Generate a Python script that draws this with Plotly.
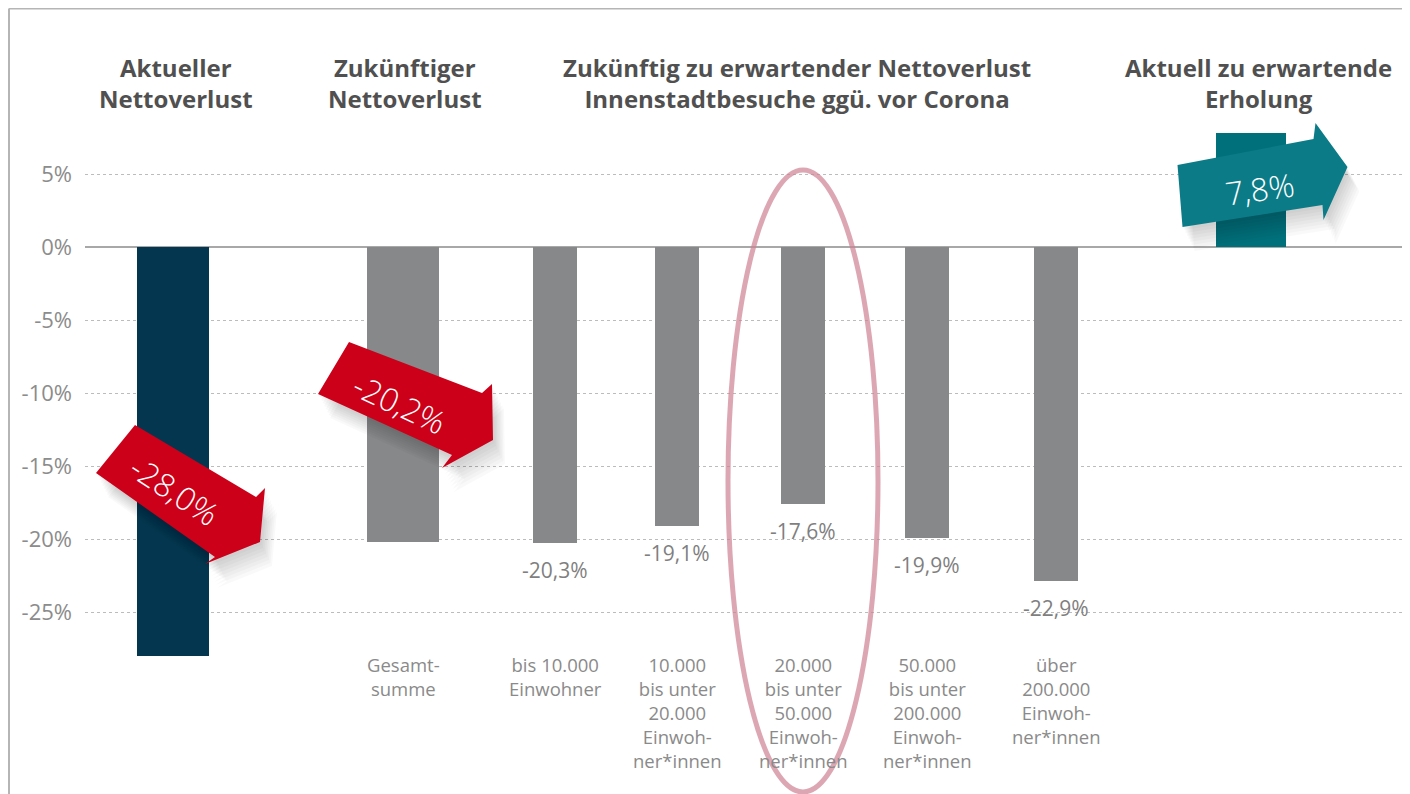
import plotly.graph_objects as go

# ---------------- data ----------------
categories = [
    "Aktueller Nettoverlust",
    "Gesamtsumme",
    "bis 10.000 Einwohner",
    "10.000 bis unter 20.000 Einwohner*innen",
    "20.000 bis unter 50.000 Einwohner*innen",
    "50.000 bis unter 200.000 Einwohner*innen",
    "über 200.000 Einwohner*innen",
    "Aktuell zu erwartende Erholung",
]
values = [-28.0, -20.2, -20.3, -19.1, -17.6, -19.9, -22.9, 7.8]
value_labels = ["-28,0%", "-20,2%", "-20,3%", "-19,1%", "-17,6%", "-19,9%", "-22,9%", "7,8%"]
category_labels = [
    "",
    "Gesamt-<br>summe",
    "bis 10.000<br>Einwohner",
    "10.000<br>bis unter<br>20.000<br>Einwoh-<br>ner*innen",
    "20.000<br>bis unter<br>50.000<br>Einwoh-<br>ner*innen",
    "50.000<br>bis unter<br>200.000<br>Einwoh-<br>ner*innen",
    "über<br>200.000<br>Einwoh-<br>ner*innen",
    "",
]
group_titles = [
    "Aktueller<br>Nettoverlust",
    "Zukünftiger<br>Nettoverlust",
    "Zukünftig zu erwartender Nettoverlust<br>Innenstadtbesuche ggü. vor Corona",
    "Aktuell zu erwartende<br>Erholung",
]
tick_vals = [5, 0, -5, -10, -15, -20, -25]
tick_text = ["5%", "0%", "-5%", "-10%", "-15%", "-20%", "-25%"]

# ---------------- layout / style ----------------
x_pos = [0.88, 3.18, 4.70, 5.92, 7.18, 8.42, 9.71, 11.655]
bar_width = [0.72, 0.72, 0.44, 0.44, 0.44, 0.44, 0.44, 0.70]
bar_colors = ["#04374f", "#87888a", "#87888a", "#87888a", "#87888a", "#87888a", "#87888a", "#00717b"]
title_x = [0.91, 3.20, 7.12, 11.73]

FONT = "Open Sans"
W, H = 1402, 786          # page adds an 8px body margin
ML = 77
PX_PER_UNIT = 100.0
PX_PER_PCT = 14.6
ZERO_PX = 239
x_range = [0, (W - ML) / PX_PER_UNIT]
y_range = [-(H - ZERO_PX) / PX_PER_PCT, ZERO_PX / PX_PER_PCT]

fig = go.Figure()
fig.add_trace(go.Bar(
    x=x_pos, y=values, width=bar_width,
    marker=dict(color=bar_colors, line=dict(width=0)),
    hovertext=categories, hoverinfo="text+y", showlegend=False,
))

annotations = []
# value labels below the small bars
for i in range(2, 7):
    annotations.append(dict(
        x=x_pos[i], y=values[i], xref="x", yref="y", text=value_labels[i],
        showarrow=False, yanchor="top", yshift=-11,
        font=dict(family=FONT, size=21, color="#7f7f7f"),
    ))
# category labels
for i, lab in enumerate(category_labels):
    if not lab:
        continue
    annotations.append(dict(
        x=x_pos[i], y=-27.6, xref="x", yref="y", text=lab, showarrow=False,
        yanchor="top", align="center",
        font=dict(family=FONT, size=18.5, color="#8a8a8a"),
    ))
# group titles
for tx, t in zip(title_x, group_titles):
    annotations.append(dict(
        x=tx, y=11.2, xref="x", yref="y", text=t, showarrow=False,
        yanchor="middle", align="center",
        font=dict(family=FONT, size=24, color="#505050", weight="bold"),
    ))

shapes = []

def poly_path(pts):
    return "M " + " L ".join(f"{a},{b}" for a, b in pts) + " Z"

# decorative ribbon arrows (pixel offsets relative to each bar's base)
arrow_defs = [
    dict(i=0, color="#cc0019", angle=33, text_off=(2, -243),
         pts=[(-38, -178), (83, -250), (92, -241), (87, -295), (32, -317), (42, -310), (-77, -226)]),
    dict(i=1, color="#cc0019", angle=25, text_off=(-3, -156),
         pts=[(-54, -95), (79, -146), (89, -137), (90, -193), (39, -221), (49, -208), (-85, -147)]),
    dict(i=7, color="#0b7c87", angle=-8, text_off=(9, 59),
         pts=[(-73, 82), (63, 108), (65, 124), (97, 80), (73, 27), (72, 42), (-68, 20)]),
]
for a in arrow_defs:
    xi = x_pos[a["i"]]
    # soft shadow
    for k in range(1, 9):
        sh = [(px + 1.5 * k, py - 3 * k) for px, py in a["pts"]]
        shapes.append(dict(
            type="path", xref="x", yref="y", xsizemode="pixel", ysizemode="pixel",
            xanchor=xi, yanchor=0, path=poly_path(sh),
            fillcolor="rgba(0,0,0,0.025)", line=dict(width=0), layer="above",
        ))
    shapes.append(dict(
        type="path", xref="x", yref="y", xsizemode="pixel", ysizemode="pixel",
        xanchor=xi, yanchor=0, path=poly_path(a["pts"]),
        fillcolor=a["color"], line=dict(width=0), layer="above",
    ))
    annotations.append(dict(
        x=xi, y=0, xref="x", yref="y", text=value_labels[a["i"]], showarrow=False,
        xshift=a["text_off"][0], yshift=a["text_off"][1], textangle=a["angle"],
        font=dict(family=FONT, size=32, color="white", weight=300),
    ))

# highlight ellipse around 20.000-50.000
shapes.append(dict(
    type="circle", xref="x", yref="y", xsizemode="pixel", ysizemode="pixel",
    xanchor=x_pos[4], yanchor=0, x0=-75, x1=75, y0=-545, y1=77,
    line=dict(color="rgba(205,130,145,0.7)", width=5), fillcolor="rgba(0,0,0,0)", layer="above",
))

# outer frame (left + top)
fl = (1 - ML) / (W - ML)
ft = 1 - 0.5 / H
shapes.append(dict(type="line", xref="paper", yref="paper", x0=fl, x1=fl, y0=0, y1=ft,
                   line=dict(color="#b5b5b5", width=2)))
shapes.append(dict(type="line", xref="paper", yref="paper", x0=fl, x1=1, y0=ft, y1=ft,
                   line=dict(color="#b5b5b5", width=2)))

fig.update_layout(
    width=W, height=H,
    margin=dict(l=ML, r=0, t=0, b=0, pad=0),
    paper_bgcolor="white", plot_bgcolor="white",
    bargap=0,
    xaxis=dict(range=x_range, showgrid=False, zeroline=False, showticklabels=False,
               ticks="", fixedrange=True),
    yaxis=dict(range=y_range, tickvals=tick_vals, ticktext=tick_text, showgrid=True,
               gridcolor="#bcbcbc", gridwidth=1, griddash="3px,3px",
               zeroline=True, zerolinecolor="#a8a8a8", zerolinewidth=1.5,
               ticks="", ticklabelstandoff=12,
               tickfont=dict(family=FONT, size=22, color="#8c8c8c"), fixedrange=True),
    annotations=annotations, shapes=shapes,
    font=dict(family=FONT),
)

fig.write_html("out.html")
